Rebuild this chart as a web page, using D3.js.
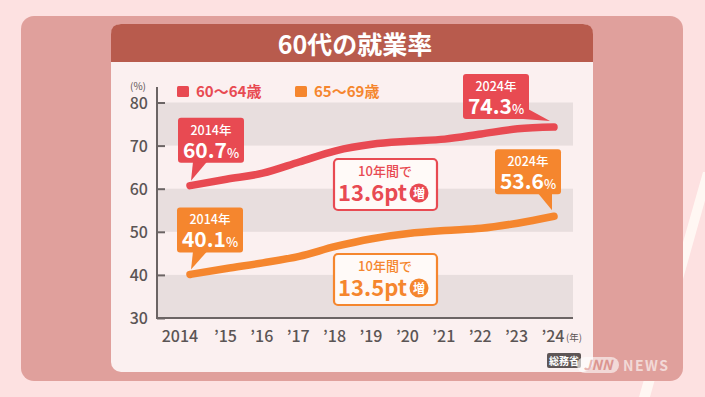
<!DOCTYPE html>
<html>
<head>
<meta charset="utf-8">
<script src="https://cdn.jsdelivr.net/npm/d3@7"></script>
<style>
  body { margin: 0; background: #fde1e1; }
  svg { display: block; }
  text { font-family: "Noto Sans CJK JP", "Noto Sans", sans-serif; }
</style>
</head>
<body>
<svg></svg>
<script>
// data
var years = [2014, 2015, 2016, 2017, 2018, 2019, 2020, 2021, 2022, 2023, 2024];
var rate6064 = [60.7, 62.2, 63.6, 66.2, 68.8, 70.3, 71.0, 71.5, 72.7, 73.9, 74.3];
var rate6569 = [40.1, 41.5, 42.8, 44.3, 46.6, 48.4, 49.6, 50.3, 50.8, 52.0, 53.6];
var yearLabels = ["2014", "’15", "’16", "’17", "’18", "’19", "’20", "’21", "’22", "’23", "’24"];
var yTicks = [30, 40, 50, 60, 70, 80];
var seriesNames = ["60〜64歳", "65〜69歳"];
var seriesColors = ["#e84a52", "#f5862e"];
var increases = ["13.6", "13.5"];

var width = 705, height = 397;

var svg = d3.select("svg")
    .attr("width", width)
    .attr("height", height);

// background stripe + panels
svg.append("polygon")
    .attr("points", "703,172 713,172 650,397 639,397")
    .attr("fill", "#fff7f3");

svg.append("rect")
    .attr("x", 21).attr("y", 16)
    .attr("width", 662).attr("height", 365)
    .attr("rx", 13)
    .attr("fill", "#e0a09c");

svg.append("rect")
    .attr("x", 111).attr("y", 24)
    .attr("width", 482).attr("height", 348)
    .attr("rx", 10)
    .attr("fill", "#fbf0f0");

// title bar (rounded top only)
svg.append("path")
    .attr("d", "M111,62 L111,34 Q111,24 121,24 L583,24 Q593,24 593,34 L593,62 Z")
    .attr("fill", "#b85b4d");

svg.append("text")
    .attr("x", 355).attr("y", 54)
    .attr("text-anchor", "middle")
    .attr("fill", "#fff")
    .attr("font-size", 25)
    .attr("font-weight", 700)
    .text("60代の就業率");

// scales
var x = d3.scaleLinear().domain([2014, 2024]).range([190, 554]);
var y = d3.scaleLinear().domain([30, 80]).range([318, 102.5]);
var plotLeft = 158, plotRight = 573;

// grey bands
var bands = [[70, 80], [50, 60], [30, 40]];
svg.append("g").selectAll("rect")
    .data(bands)
    .enter()
    .append("rect")
    .attr("x", plotLeft)
    .attr("y", function(d) { return y(d[1]); })
    .attr("width", plotRight - plotLeft)
    .attr("height", function(d) { return y(d[0]) - y(d[1]); })
    .attr("fill", "#e8dede");

// y axis
var yAxis = svg.append("g")
    .attr("transform", "translate(" + 157 + ",0)")
    .call(d3.axisLeft(y).tickValues(yTicks).tickSize(-8).tickPadding(9));
yAxis.select(".domain").remove();
yAxis.selectAll(".tick line").attr("stroke", "#6b6464").attr("stroke-width", 2);
yAxis.selectAll(".tick text")
    .attr("fill", "#5b5555")
    .attr("font-size", 16)
    .attr("font-weight", 500)
    .attr("font-family", "'Noto Sans', sans-serif")
    .attr("dy", "0.36em");

svg.append("line")
    .attr("x1", 157).attr("x2", 157)
    .attr("y1", 87).attr("y2", 319)
    .attr("stroke", "#6b6464").attr("stroke-width", 2);
svg.append("line")
    .attr("x1", 156).attr("x2", plotRight)
    .attr("y1", 318).attr("y2", 318)
    .attr("stroke", "#6b6464").attr("stroke-width", 2);

svg.append("text")
    .attr("x", 138).attr("y", 90)
    .attr("text-anchor", "middle")
    .attr("fill", "#5b5555")
    .attr("font-size", 10)
    .text("(%)");

// x labels
svg.append("g").selectAll("text")
    .data(years)
    .enter()
    .append("text")
    .attr("x", function(d, i) { return x(d) - (i === 0 ? 10 : 1); })
    .attr("y", 342)
    .attr("text-anchor", "middle")
    .attr("fill", "#5b5555")
    .attr("font-size", 16)
    .attr("font-weight", 500)
    .attr("font-family", "'Noto Sans', sans-serif")
    .text(function(d, i) { return yearLabels[i]; });

svg.append("text")
    .attr("x", 574).attr("y", 341)
    .attr("text-anchor", "middle")
    .attr("fill", "#5b5555")
    .attr("font-size", 9.5)
    .text("(年)");

// legend
var legend = svg.append("g").selectAll("g")
    .data(seriesNames)
    .enter()
    .append("g")
    .attr("transform", function(d, i) { return "translate(" + (177 + i * 118) + ",86)"; });
legend.append("rect")
    .attr("width", 12).attr("height", 11).attr("rx", 1.5)
    .attr("fill", function(d, i) { return seriesColors[i]; });
legend.append("text")
    .attr("x", 19).attr("y", 11)
    .attr("fill", function(d, i) { return seriesColors[i]; })
    .attr("font-size", 15)
    .attr("font-weight", 700)
    .text(function(d) { return d; });

// lines
var line = d3.line()
    .x(function(d, i) { return x(years[i]); })
    .y(function(d) { return y(d); })
    .curve(d3.curveMonotoneX);

[rate6064, rate6569].forEach(function(series, k) {
    svg.append("path")
        .attr("d", line(series))
        .attr("fill", "none")
        .attr("stroke", seriesColors[k])
        .attr("stroke-width", 7.5)
        .attr("stroke-linecap", "round")
        .attr("stroke-linejoin", "round");
});

// callouts: box offsets relative to the data point
function callout(year, value, color, bx, by, tail) {
    var px = x(year), py = y(value);
    var g = svg.append("g");
    g.append("polygon")
        .attr("points", tail.map(function(p) { return (px + p[0]) + "," + (py + p[1]); }).join(" "))
        .attr("fill", color);
    g.append("rect")
        .attr("x", px + bx).attr("y", py + by)
        .attr("width", 66).attr("height", 45)
        .attr("rx", 3)
        .attr("fill", color);
    g.append("text")
        .attr("x", px + bx + 33).attr("y", py + by + 17)
        .attr("text-anchor", "middle")
        .attr("fill", "#fff")
        .attr("font-size", 12.5)
        .attr("font-weight", 500)
        .text(year + "年");
    var t = g.append("text")
        .attr("x", px + bx + 33).attr("y", py + by + 40)
        .attr("text-anchor", "middle")
        .attr("fill", "#fff")
        .attr("font-weight", 600)
        .attr("font-family", "'Open Sans', 'Noto Sans', sans-serif");
    t.append("tspan").attr("font-size", 21).text(value.toFixed(1));
    t.append("tspan").attr("font-size", 13).attr("font-weight", 500).text("%");
}

callout(2014, rate6064[0], seriesColors[0], -12, -68, [[3, -24], [17, -24], [1, -5]]);
callout(2024, rate6064[10], seriesColors[0], -91, -53, [[-44, -9], [-26, -18], [-4, -6]]);
callout(2024, rate6569[10], seriesColors[1], -59, -67, [[-16, -23], [-2, -23], [-2, -6]]);
callout(2014, rate6569[0], seriesColors[1], -13, -67, [[3, -23], [17, -23], [1, -5]]);

// increase boxes
[0, 1].forEach(function(k) {
    var top = 158 + k * 95;
    var c = seriesColors[k];
    var g = svg.append("g");
    g.append("rect")
        .attr("x", 334).attr("y", top + 1)
        .attr("width", 103).attr("height", 51)
        .attr("rx", 4)
        .attr("fill", "#fffaf8")
        .attr("stroke", c)
        .attr("stroke-width", 2.2);
    g.append("text")
        .attr("x", 385).attr("y", top + 18)
        .attr("text-anchor", "middle")
        .attr("fill", c)
        .attr("font-size", 13)
        .attr("font-weight", 500)
        .text("10年間で");
    g.append("text")
        .attr("x", 407).attr("y", top + 43)
        .attr("text-anchor", "end")
        .attr("fill", c)
        .attr("font-size", 22)
        .attr("font-weight", 600)
        .attr("font-family", "'Open Sans', 'Noto Sans', sans-serif")
        .text(increases[k] + "pt");
    g.append("circle")
        .attr("cx", 419).attr("cy", top + 35)
        .attr("r", 9.5)
        .attr("fill", c);
    g.append("text")
        .attr("x", 419).attr("y", top + 39.5)
        .attr("text-anchor", "middle")
        .attr("fill", "#fff")
        .attr("font-size", 12)
        .attr("font-weight", 700)
        .text("増");
});

// source
svg.append("rect")
    .attr("x", 547).attr("y", 353)
    .attr("width", 34).attr("height", 15)
    .attr("rx", 2)
    .attr("fill", "#5e5656");
svg.append("text")
    .attr("x", 564).attr("y", 364.5)
    .attr("text-anchor", "middle")
    .attr("fill", "#fff")
    .attr("font-size", 10)
    .attr("font-weight", 700)
    .text("総務省");

// logo
var logo = svg.append("g").attr("opacity", 0.6);
logo.append("rect")
    .attr("x", 577).attr("y", 357)
    .attr("width", 42).attr("height", 16)
    .attr("rx", 8)
    .attr("fill", "#fff");
logo.append("text")
    .attr("x", 598).attr("y", 370)
    .attr("text-anchor", "middle")
    .attr("fill", "#d98e8a")
    .attr("font-size", 14)
    .attr("font-weight", 700)
    .attr("font-style", "italic")
    .attr("font-family", "'DejaVu Sans', sans-serif")
    .text("JNN");
logo.append("text")
    .attr("x", 623).attr("y", 371)
    .attr("fill", "#fff")
    .attr("font-size", 14)
    .attr("font-weight", 700)
    .attr("letter-spacing", 1.5)
    .attr("font-family", "'DejaVu Sans', sans-serif")
    .text("NEWS");
</script>
</body>
</html>
